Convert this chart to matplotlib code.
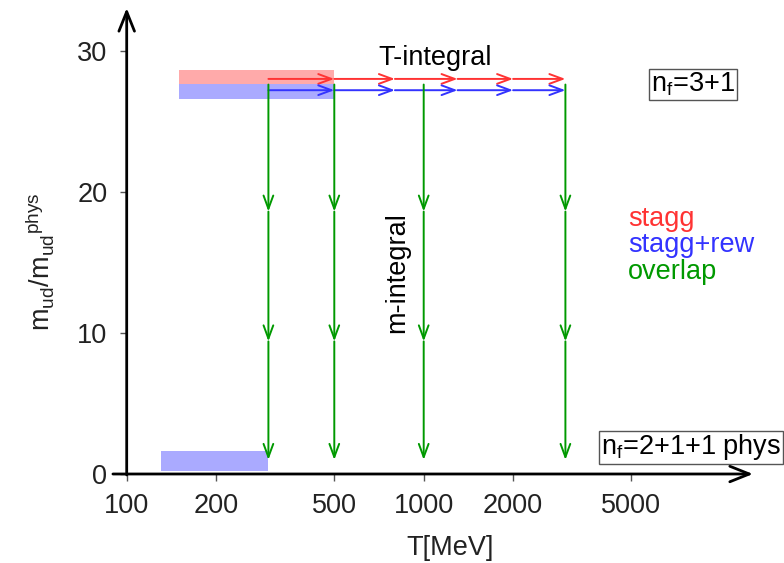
import numpy as np
import matplotlib
matplotlib.use('Agg')
from matplotlib import pyplot as plt

# T-integral steps (MeV) and mass ratios of the horizontal arrows
t_steps = [300, 500, 800, 1300, 2000, 3000]
m_stagg = 28.0
m_rew = 27.2

# m-integral: vertical arrows for overlap
t_overlap = [300, 500, 1000, 3000]
m_steps = [27.6, 18.6, 9.4, 1.0]

# shaded bands: (T_lo, T_hi, m_lo, m_hi)
band_stagg = (150, 500, 27.64, 28.63)
band_rew = (150, 500, 26.58, 27.64)
band_phys = (130, 300, 0.2, 1.63)

x_ticks = [100, 200, 500, 1000, 2000, 5000]
y_ticks = [0, 10, 20, 30]

RED = '#ff3333'
BLUE = '#3333ff'
GREEN = '#009900'

plt.rcParams['font.family'] = ['Liberation Sans', 'DejaVu Sans']
plt.rcParams['mathtext.fontset'] = 'custom'
plt.rcParams['mathtext.rm'] = 'Liberation Sans'
plt.rcParams['mathtext.it'] = 'Liberation Sans'
FS = 19.5

W, H = 784, 563
fig = plt.figure(figsize=(W / 100, H / 100), dpi=100)
x0, x1, y0, y1 = 126.7, 753, 474, 8
ax = fig.add_axes([x0 / W, 1 - y0 / H, (x1 - x0) / W, (y0 - y1) / H])
ax.set_xscale('log')
ax.set_xlim(100, 10 ** ((x1 - x0) / 297 + 2))
ax.set_ylim(0, (y0 - y1) / 14.11)
for s in ax.spines.values():
    s.set_visible(False)

ax.set_xticks(x_ticks)
ax.set_xticklabels([str(t) for t in x_ticks])
ax.xaxis.set_minor_locator(matplotlib.ticker.NullLocator())
ax.set_yticks(y_ticks)
ax.tick_params(direction='out', length=5, width=1, color='#555555',
               labelsize=FS, labelcolor='#222222', pad=9)

# bands
for (ta, tb, ma, mb), col in [(band_stagg, '#ffaaaa'), (band_rew, '#aaaaff'),
                              (band_phys, '#aaaaff')]:
    ax.fill_between([ta, tb], ma, mb, color=col, lw=0, zorder=1)

def arrow(xa, ya, xb, yb, col):
    ax.annotate('', xy=(xb, yb), xytext=(xa, ya),
                arrowprops=dict(arrowstyle='->,head_length=0.95,head_width=0.35',
                                color=col, lw=1.4, shrinkA=0, shrinkB=0,
                                mutation_scale=10), zorder=3)

for m, col in [(m_stagg, RED), (m_rew, BLUE)]:
    for ta, tb in zip(t_steps[:-1], t_steps[1:]):
        arrow(ta, m, tb, m, col)

for t in t_overlap:
    for ma, mb in zip(m_steps[:-1], m_steps[1:]):
        arrow(t, ma, t, mb, GREEN)

# axis arrows
ax.annotate('', xy=(1.0, 0), xytext=(-0.022, 0), xycoords='axes fraction',
            textcoords='axes fraction',
            arrowprops=dict(arrowstyle='->,head_length=1.0,head_width=0.4',
                            color='black', lw=2, shrinkA=0, shrinkB=0,
                            mutation_scale=14), annotation_clip=False)
ax.annotate('', xy=(0, 1.0), xytext=(0, -0.002), xycoords='axes fraction',
            textcoords='axes fraction',
            arrowprops=dict(arrowstyle='->,head_length=1.0,head_width=0.4',
                            color='black', lw=2, shrinkA=0, shrinkB=0,
                            mutation_scale=14), annotation_clip=False)

ax.text(1092, 29.5, 'T-integral', fontsize=FS, ha='center', va='center')
ax.text(813, 14.3, 'm-integral', fontsize=FS, ha='center', va='center',
        rotation=90)
ax.text(4875, 18.1, 'stagg', fontsize=FS, color=RED, va='center')
ax.text(4875, 16.2, 'stagg+rew', fontsize=FS, color=BLUE, va='center')
ax.text(4875, 14.3, 'overlap', fontsize=FS, color=GREEN, va='center')

box = dict(boxstyle='square,pad=0.06', fc='white', ec='#555555', lw=1)
ax.text(8070, 27.6, r'n$_\mathregular{f}$=3+1', fontsize=FS,
        ha='center', va='center', bbox=box)
ax.text(7950, 1.9, r'n$_\mathregular{f}$=2+1+1 phys', fontsize=FS,
        ha='center', va='center', bbox=box)

fig.text(450 / W, 1 - 548 / H, 'T[MeV]', fontsize=FS, ha='center', va='center',
         color='#222222')
fig.text(40 / W, 1 - 262 / H,
         r'm$_\mathregular{ud}$/m$_\mathregular{ud}$$^\mathregular{phys}$',
         fontsize=FS, ha='center', va='center', rotation=90, color='#222222')

fig.savefig('out.png', dpi=100)
